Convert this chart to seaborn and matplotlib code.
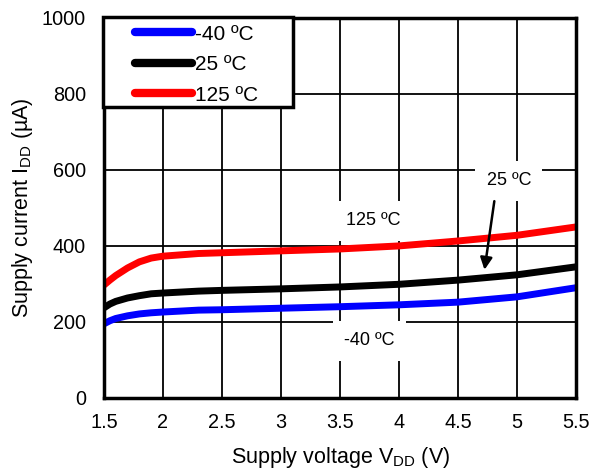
import matplotlib
matplotlib.use("Agg")
import matplotlib.pyplot as plt
from matplotlib.patches import Rectangle
import seaborn as sns
import pandas as pd

# Supply voltage sample points (V)
vdd = [1.5, 1.55, 1.6, 1.7, 1.8, 1.9, 2.0, 2.3, 2.5, 3.0, 3.5, 4.0, 4.5, 5.0, 5.5]

# Supply current (uA) per temperature
idd_m40 = [195, 203, 209, 216, 221, 224, 226, 231, 232, 236, 240, 245, 252, 266, 290]
idd_25 = [237, 247, 254, 263, 269, 274, 276, 281, 283, 287, 292, 299, 310, 324, 345]
idd_125 = [297, 310, 322, 342, 358, 368, 373, 380, 382, 387, 392, 400, 413, 428, 450]

temps = ["-40 ºC", "25 ºC", "125 ºC"]
colors = ["#0000ff", "#000000", "#ff0000"]

x_ticks = [1.5, 2, 2.5, 3, 3.5, 4, 4.5, 5, 5.5]
x_tick_labels = ["1.5", "2", "2.5", "3", "3.5", "4", "4.5", "5", "5.5"]
y_ticks = [0, 200, 400, 600, 800, 1000]

df = pd.concat([
    pd.DataFrame({"vdd": vdd, "idd": vals, "temp": t})
    for t, vals in zip(temps, [idd_m40, idd_25, idd_125])
])

sns.set_theme(style="white")
plt.rcParams["font.family"] = ["Liberation Sans", "DejaVu Sans"]
plt.rcParams["mathtext.fontset"] = "custom"
plt.rcParams["mathtext.rm"] = "Liberation Sans"
plt.rcParams["mathtext.it"] = "Liberation Sans"
plt.rcParams["text.color"] = "black"
plt.rcParams["axes.labelcolor"] = "black"

fig = plt.figure(figsize=(5.94, 4.72), dpi=100)
ax = fig.add_axes([0.175, 0.157, 0.795, 0.805])

sns.lineplot(data=df, x="vdd", y="idd", hue="temp", hue_order=temps,
             palette=colors, linewidth=5, ax=ax, solid_capstyle="butt")

ax.set_xlim(1.5, 5.5)
ax.set_ylim(0, 1000)
ax.set_xticks(x_ticks)
ax.set_xticklabels(x_tick_labels)
ax.set_yticks(y_ticks)
ax.grid(True, color="black", linewidth=1.3)
ax.set_axisbelow(True)
for s in ax.spines.values():
    s.set_color("black")
    s.set_linewidth(2.5)
ax.tick_params(axis="both", labelsize=14.3, colors="black", length=0)
ax.tick_params(axis="x", pad=11)
ax.tick_params(axis="y", pad=13)

ax.set_xlabel(r"Supply voltage V$_{\mathrm{DD}}$ (V)", fontsize=15.5, labelpad=9)
ax.set_ylabel(r"Supply current I$_{\mathrm{DD}}$ (µA)", fontsize=15.5, labelpad=5)

# Legend frame: white box with heavy black border in the upper-left corner
frame = Rectangle((-0.002, 0.766), 0.402, 0.237, transform=ax.transAxes,
                  facecolor="white", edgecolor="black", linewidth=2.5,
                  zorder=4.5, clip_on=False)
ax.add_patch(frame)

leg = ax.legend(loc="upper left", bbox_to_anchor=(0.066, 0.982), borderaxespad=0,
                frameon=False, fontsize=15, handlelength=2.74,
                handletextpad=0.15, labelspacing=0.55, borderpad=0, title=None)
leg.set_zorder(5)
for h in leg.get_lines():
    h.set_linewidth(6)
    h.set_solid_capstyle("round")

box = dict(facecolor="white", edgecolor="none", pad=8)
ax.text(3.78, 466, "125 ºC", fontsize=13, ha="center", va="center", bbox=box)
ax.text(3.75, 150, "-40 ºC", fontsize=13, ha="center", va="center", bbox=box)
ax.text(4.93, 571, "25 ºC", fontsize=13, ha="center", va="center", bbox=box)
ax.annotate("", xy=(4.72, 330), xytext=(4.81, 525),
            arrowprops=dict(arrowstyle="-|>", color="black", lw=1.8,
                            mutation_scale=18))

fig.savefig("out.png", dpi=100)
